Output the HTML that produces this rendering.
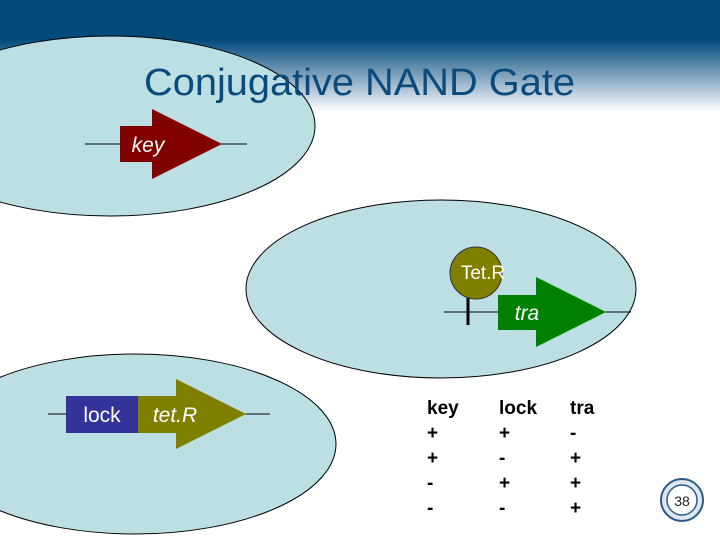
<!DOCTYPE html>
<html><head><style>
body{margin:0}
svg{display:block}
</style></head><body>
<svg width="720" height="540" xmlns="http://www.w3.org/2000/svg" font-family="Liberation Sans, Arial, sans-serif">
<defs>
<linearGradient id="g" x1="0" y1="0" x2="0" y2="1">
<stop offset="0" stop-color="#004a7c"/>
<stop offset="0.35" stop-color="#004a7c"/>
<stop offset="0.7" stop-color="#8aa9c2"/>
<stop offset="1" stop-color="#ffffff"/>
</linearGradient>
</defs>
<rect width="720" height="540" fill="#fff"/>
<rect width="720" height="112" fill="url(#g)"/>
<ellipse cx="110" cy="126" rx="205" ry="90" fill="#bcdfe3" stroke="#000" stroke-width="1"/>
<ellipse cx="441" cy="289" rx="195" ry="89" fill="#bcdfe3" stroke="#000" stroke-width="1"/>
<ellipse cx="135" cy="444" rx="201" ry="90" fill="#bcdfe3" stroke="#000" stroke-width="1"/>
<text x="144" y="95" font-size="38" fill="#0b4a7c" textLength="431" lengthAdjust="spacingAndGlyphs">Conjugative NAND Gate</text>
<!-- key -->
<line x1="85" y1="144" x2="247" y2="144" stroke="#000"/>
<polygon points="120,126 152,126 152,109 222,144 152,179 152,162 120,162" fill="#800000"/>
<text x="148" y="152" font-size="21" font-style="italic" fill="#fff" text-anchor="middle">key</text>
<!-- tra -->
<line x1="444" y1="312" x2="631" y2="312" stroke="#000"/>
<line x1="468" y1="297" x2="468" y2="325" stroke="#000" stroke-width="3"/>
<polygon points="498,295 536,295 536,277 606,312 536,347 536,330 498,330" fill="#008000"/>
<text x="527" y="320" font-size="21" font-style="italic" fill="#fff" text-anchor="middle">tra</text>
<circle cx="476" cy="273" r="26" fill="#7f7f00" stroke="#333" stroke-width="1"/>
<text x="483" y="279" font-size="19" fill="#fff" text-anchor="middle">Tet.R</text>
<!-- lock tetR -->
<line x1="48" y1="414" x2="270" y2="414" stroke="#000"/>
<rect x="66" y="396" width="72" height="37" fill="#333399"/>
<polygon points="138,396 176,396 176,379 246,414 176,449 176,433 138,433" fill="#808000"/>
<text x="102" y="422" font-size="21" fill="#fff" text-anchor="middle">lock</text>
<text x="175" y="422" font-size="21" font-style="italic" fill="#fff" text-anchor="middle">tet.R</text>
<!-- table -->
<g font-size="19" font-weight="bold" fill="#000">
<text x="427" y="414">key</text><text x="499" y="414">lock</text><text x="570" y="414">tra</text>
<text x="427" y="439">+</text><text x="499" y="439">+</text><text x="570" y="439">-</text>
<text x="427" y="464">+</text><text x="499" y="464">-</text><text x="570" y="464">+</text>
<text x="427" y="489">-</text><text x="499" y="489">+</text><text x="570" y="489">+</text>
<text x="427" y="514">-</text><text x="499" y="514">-</text><text x="570" y="514">+</text>
</g>
<circle cx="682" cy="500" r="21" fill="#dfe8f0" stroke="#2a5a8a" stroke-width="2"/>
<circle cx="682" cy="500" r="15" fill="#fff" stroke="#2a5a8a" stroke-width="1.5"/>
<text x="682" y="506" font-size="14" fill="#222" text-anchor="middle">38</text>
</svg>
</body></html>
